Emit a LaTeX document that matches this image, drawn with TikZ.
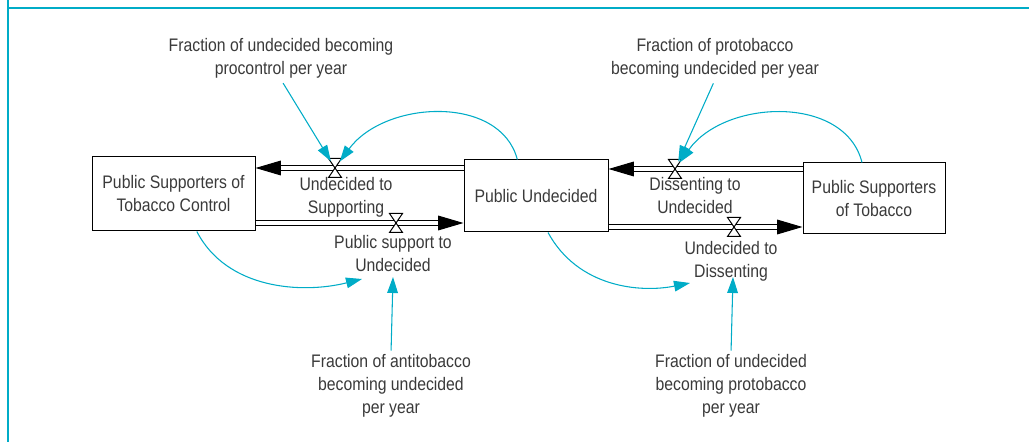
\documentclass[tikz,border=0pt]{standalone}
\usepackage{fontspec}
\setmainfont[FakeStretch=0.87]{Liberation Sans}
\usepackage{xcolor}
\usetikzlibrary{arrows.meta}
\definecolor{linkteal}{RGB}{0,172,199}
\definecolor{labelgray}{RGB}{58,58,58}

\begin{document}
\begin{tikzpicture}[x=0.75pt,y=0.75pt,yscale=-1,xscale=1,
        every node/.style={font=\fontsize{13.6}{17.25}\selectfont,text=labelgray,align=center,inner sep=0.75pt},
        stock/.style={draw=black,line width=0.75pt},
        pipe/.style={draw=black,line width=0.8pt,double=white,double distance=2.4pt,-{Triangle[length=19pt,width=11pt]}},
        valve/.style={draw=black,fill=white,line width=0.75pt},
        link/.style={draw=linkteal,line width=0.8pt,-{Triangle[length=12pt,width=8pt]}},
        frame/.style={draw=linkteal,line width=1.8pt}]
        \useasboundingbox (0,0) rectangle (1029,442);
        
        %Frame
        \draw[frame] (8,0) -- (8,442);
        \draw[frame] (8,8) -- (1029,8);
        
        %Shape: Rectangle [id:sup]
        \node[stock,minimum width=122.25pt,minimum height=55.5pt] (sup) at (173.5,194) {Public Supporters of\\Tobacco Control};
        %Shape: Rectangle [id:und]
        \node[stock,minimum width=108pt,minimum height=54pt] (und) at (536,196) {Public Undecided};
        %Shape: Rectangle [id:tob]
        \node[stock,minimum width=106.5pt,minimum height=53.25pt] (tob) at (874,198.5) {Public Supporters\\of Tobacco};
        
        %Valve points
        \coordinate (v1) at (335,168);
        \coordinate (v2) at (396,223);
        \coordinate (v3) at (675,169);
        \coordinate (v4) at (734,227);
        
        %Flows
        \draw[pipe] (und.west |- v1) -- (sup.east |- v1);
        \draw[pipe] (sup.east |- v2) -- (und.west |- v2);
        \draw[pipe] (tob.west |- v3) -- (und.east |- v3);
        \draw[pipe] (und.east |- v4) -- (tob.west |- v4);
        
        %Valves
        \foreach \v in {v1,v2,v3,v4}
            \draw[valve] (\v) +(-6.5,-9.5) -- +(6.5,-9.5) -- +(-6.5,9.5) -- +(6.5,9.5) -- cycle;
        
        % Text Node
        \node (lab1) at (346,197) {Undecided to\\Supporting};
        % Text Node
        \node (lab2) at (393,253.5) {Public support to\\Undecided};
        % Text Node
        \node (lab3) at (695,196) {Dissenting to\\Undecided};
        % Text Node
        \node (lab4) at (731,261.5) {Undecided to\\Dissenting};
        % Text Node
        \node (fr1) at (281,58.5) {Fraction of undecided becoming\\procontrol per year};
        % Text Node
        \node (fr3) at (715,58.5) {Fraction of protobacco\\becoming undecided per year};
        % Text Node
        \node (fr2) at (391,386) {Fraction of antitobacco\\becoming undecided\\per year};
        % Text Node
        \node (fr4) at (731,386) {Fraction of undecided\\becoming protobacco\\per year};
        
        %Link ends
        \coordinate (e2) at (362,279);
        \coordinate (a2) at (393,277);
        \coordinate (e4) at (690,283);
        \coordinate (a4) at (733,277);
        
        %Straight Lines
        \draw[link,shorten <=3pt,shorten >=6pt] (fr1.south) -- (v1);
        \draw[link,shorten <=3pt,shorten >=6pt] (fr3.south) -- (v3);
        \draw[link,shorten <=2pt] (fr2.north) -- (a2);
        \draw[link,shorten <=2pt] (fr4.north) -- (a4);
        
        %Curve Lines
        \draw[link,shorten >=6pt] ([xshift=-14pt]und.north) .. controls +(-17,-65) and +(50,-68) .. (v1);
        \draw[link,shorten >=6pt] ([xshift=-9pt]tob.north) .. controls +(-17,-68) and +(50,-70) .. (v3);
        \draw[link] ([xshift=17.5pt]sup.south) .. controls +(30,58) and +(-60,15) .. (e2);
        \draw[link] ([xshift=9pt]und.south) .. controls +(30,55) and +(-50,10) .. (e4);
        
\end{tikzpicture}
\end{document}
